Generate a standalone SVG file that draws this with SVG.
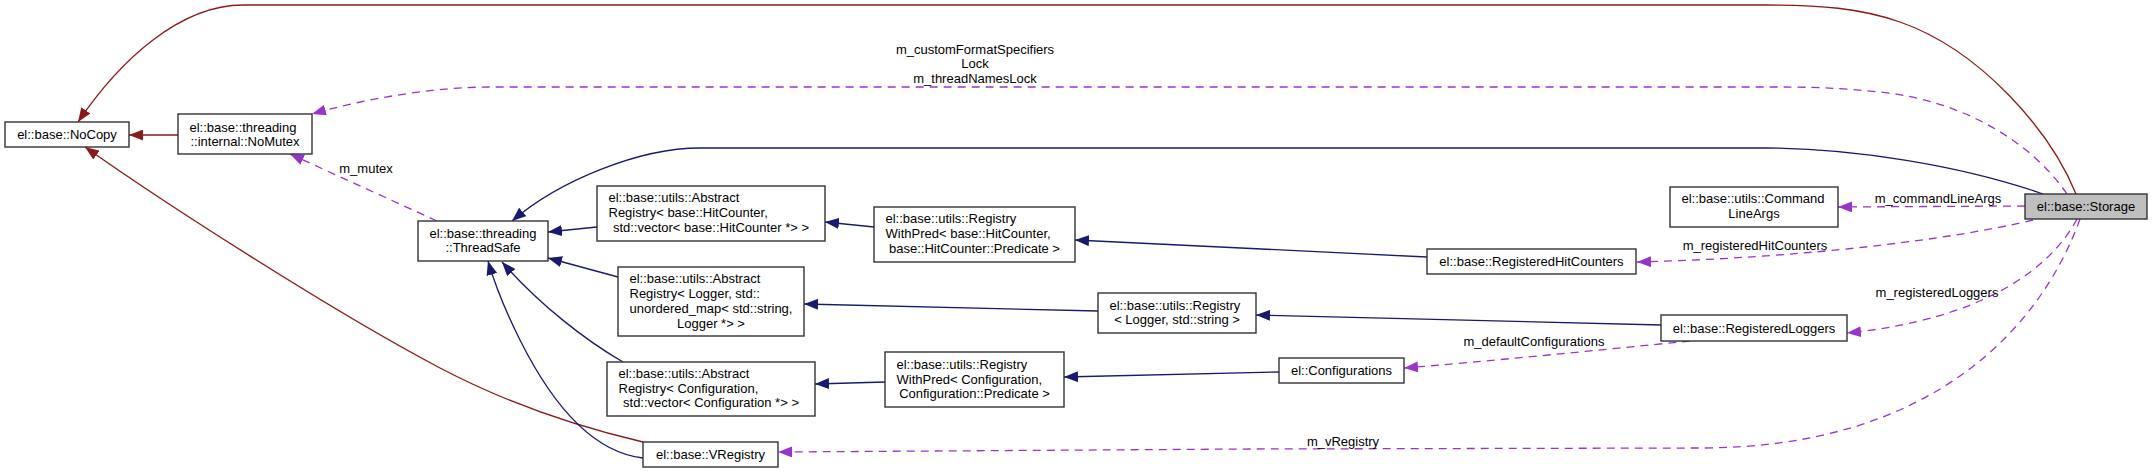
<svg xmlns="http://www.w3.org/2000/svg" width="2152" height="473" viewBox="0 0 2152 473">
<style>
.n rect{fill:#fff;stroke:#333;stroke-width:1.4}
#storage rect{fill:#bfbfbf}
text{font-family:"Liberation Sans",Arial,sans-serif;font-size:13px;fill:#000}
.m{text-anchor:middle}
.e{fill:none;stroke-width:1.3}
.r{stroke:#8b1a1a}
.b{stroke:#191970}
.p{stroke:#9a32cd;stroke-dasharray:8,6}
</style>
<defs>
<marker id="ar" markerUnits="userSpaceOnUse" markerWidth="14" markerHeight="11" refX="14" refY="5.5" orient="auto"><path d="M0,0 L14,5.5 L0,11 z" fill="#8b1a1a"/></marker>
<marker id="ab" markerUnits="userSpaceOnUse" markerWidth="14" markerHeight="11" refX="14" refY="5.5" orient="auto"><path d="M0,0 L14,5.5 L0,11 z" fill="#191970"/></marker>
<marker id="ap" markerUnits="userSpaceOnUse" markerWidth="14" markerHeight="11" refX="14" refY="5.5" orient="auto"><path d="M0,0 L14,5.5 L0,11 z" fill="#9a32cd"/></marker>
</defs>
<g id="edges">
<path class="e r" d="M2076,194 C2050,130 1980,50 1900,22 C1860,8 1820,5 1765,5 L243,5 C180,5 120,60 78,122" marker-end="url(#ar)"/>
<path class="e r" d="M178,135 L129,135" marker-end="url(#ar)"/>
<path class="e r" d="M643,442 C600,432 520,410 440,368 C330,310 160,200 85,147" marker-end="url(#ar)"/>
<path class="e b" d="M2043,194 C1960,165 1850,148 1765,148 L700,148 C640,148 560,180 512,221" marker-end="url(#ab)"/>
<path class="e b" d="M597,227 L548,232" marker-end="url(#ab)"/>
<path class="e b" d="M618,277 L548,258" marker-end="url(#ab)"/>
<path class="e b" d="M623,362 C585,340 540,305 502,262" marker-end="url(#ab)"/>
<path class="e b" d="M643,458 C590,452 550,400 520,340 C505,310 495,285 488,261" marker-end="url(#ab)"/>
<path class="e b" d="M874,227 L825,222" marker-end="url(#ab)"/>
<path class="e b" d="M1098,311 L804,304" marker-end="url(#ab)"/>
<path class="e b" d="M885,382 L815,384" marker-end="url(#ab)"/>
<path class="e b" d="M1427,257 L1075,240" marker-end="url(#ab)"/>
<path class="e b" d="M1661,325 L1256,315" marker-end="url(#ab)"/>
<path class="e b" d="M1279,372 L1064,377" marker-end="url(#ab)"/>
<path class="e p" d="M2067,194 C2030,140 1960,100 1880,92 C1840,88 1810,87 1784,87 L491,87 C430,87 360,100 312,114" marker-end="url(#ap)"/>
<text class="m" x="975" y="53.5">m_customFormatSpecifiers</text>
<text class="m" x="975" y="68">Lock</text>
<text class="m" x="975" y="83">m_threadNamesLock</text>
<path class="e p" d="M437,221 L290,154" marker-end="url(#ap)"/>
<text class="m" x="366" y="172.5">m_mutex</text>
<path class="e p" d="M2025,206 L1838,207" marker-end="url(#ap)"/>
<text class="m" x="1938" y="202.5">m_commandLineArgs</text>
<path class="e p" d="M2033,220 C1950,240 1800,258 1637,262" marker-end="url(#ap)"/>
<text class="m" x="1755" y="249.5">m_registeredHitCounters</text>
<path class="e p" d="M2077,219 C2050,270 1980,320 1847,333" marker-end="url(#ap)"/>
<text class="m" x="1937" y="296.5">m_registeredLoggers</text>
<path class="e p" d="M1690,341 C1600,350 1480,362 1404,368" marker-end="url(#ap)"/>
<text class="m" x="1534" y="345.5">m_defaultConfigurations</text>
<path class="e p" d="M2080,219 C2040,330 1930,448 1700,448 L1250,449 L778,452" marker-end="url(#ap)"/>
<text class="m" x="1343" y="445.5">m_vRegistry</text>
</g>
<g id="nocopy" class="n"><rect x="5" y="122" width="124" height="25"/><text class="m" x="67" y="139">el::base::NoCopy</text></g>
<g id="nomutex" class="n"><rect x="178" y="114" width="134" height="40"/><text x="189.5" y="131.5">el::base::threading</text><text class="m" x="245" y="145.5">::internal::NoMutex</text></g>
<g id="threadsafe" class="n"><rect x="418" y="221" width="130" height="40"/><text x="429.5" y="237.5">el::base::threading</text><text class="m" x="483" y="252">::ThreadSafe</text></g>
<g id="abstractregistry_hitcounter" class="n"><rect x="597" y="186" width="228" height="55"/><text x="608.5" y="201.5">el::base::utils::Abstract</text><text x="608.5" y="216.5">Registry&lt; base::HitCounter,</text><text class="m" x="711" y="231.5"> std::vector&lt; base::HitCounter *&gt; &gt;</text></g>
<g id="abstractregistry_logger" class="n"><rect x="618" y="267" width="186" height="69"/><text x="629.5" y="282.5">el::base::utils::Abstract</text><text x="629.5" y="297.5">Registry&lt; Logger, std::</text><text x="629.5" y="312.5">unordered_map&lt; std::string,</text><text class="m" x="711" y="327.5">Logger *&gt; &gt;</text></g>
<g id="abstractregistry_configuration" class="n"><rect x="607" y="362" width="208" height="54"/><text x="618.5" y="377.5">el::base::utils::Abstract</text><text x="618.5" y="392.5">Registry&lt; Configuration,</text><text class="m" x="711" y="407">std::vector&lt; Configuration *&gt; &gt;</text></g>
<g id="registrywithpred_hitcounter" class="n"><rect x="874" y="207" width="201" height="55"/><text x="885.5" y="223">el::base::utils::Registry</text><text x="885.5" y="238">WithPred&lt; base::HitCounter,</text><text class="m" x="974.5" y="253">base::HitCounter::Predicate &gt;</text></g>
<g id="registry_logger" class="n"><rect x="1098" y="293" width="158" height="40"/><text x="1109.5" y="309.5">el::base::utils::Registry</text><text class="m" x="1177" y="324">&lt; Logger, std::string &gt;</text></g>
<g id="registrywithpred_configuration" class="n"><rect x="885" y="352" width="179" height="55"/><text x="896.5" y="368.5">el::base::utils::Registry</text><text x="896.5" y="383.5">WithPred&lt; Configuration,</text><text class="m" x="974.5" y="398">Configuration::Predicate &gt;</text></g>
<g id="configurations" class="n"><rect x="1279" y="358" width="125" height="25"/><text class="m" x="1341.5" y="375">el::Configurations</text></g>
<g id="registeredhitcounters" class="n"><rect x="1427" y="249" width="209" height="25"/><text class="m" x="1531.5" y="266">el::base::RegisteredHitCounters</text></g>
<g id="registeredloggers" class="n"><rect x="1661" y="315" width="186" height="26"/><text class="m" x="1754" y="332.5">el::base::RegisteredLoggers</text></g>
<g id="commandlineargs" class="n"><rect x="1670" y="187" width="168" height="40"/><text x="1681.5" y="203">el::base::utils::Command</text><text class="m" x="1754" y="217.5">LineArgs</text></g>
<g id="storage" class="n"><rect x="2025" y="194" width="122" height="25"/><text class="m" x="2086" y="211">el::base::Storage</text></g>
<g id="vregistry" class="n"><rect x="643" y="442" width="135" height="25"/><text class="m" x="710.5" y="459">el::base::VRegistry</text></g>
</svg>
